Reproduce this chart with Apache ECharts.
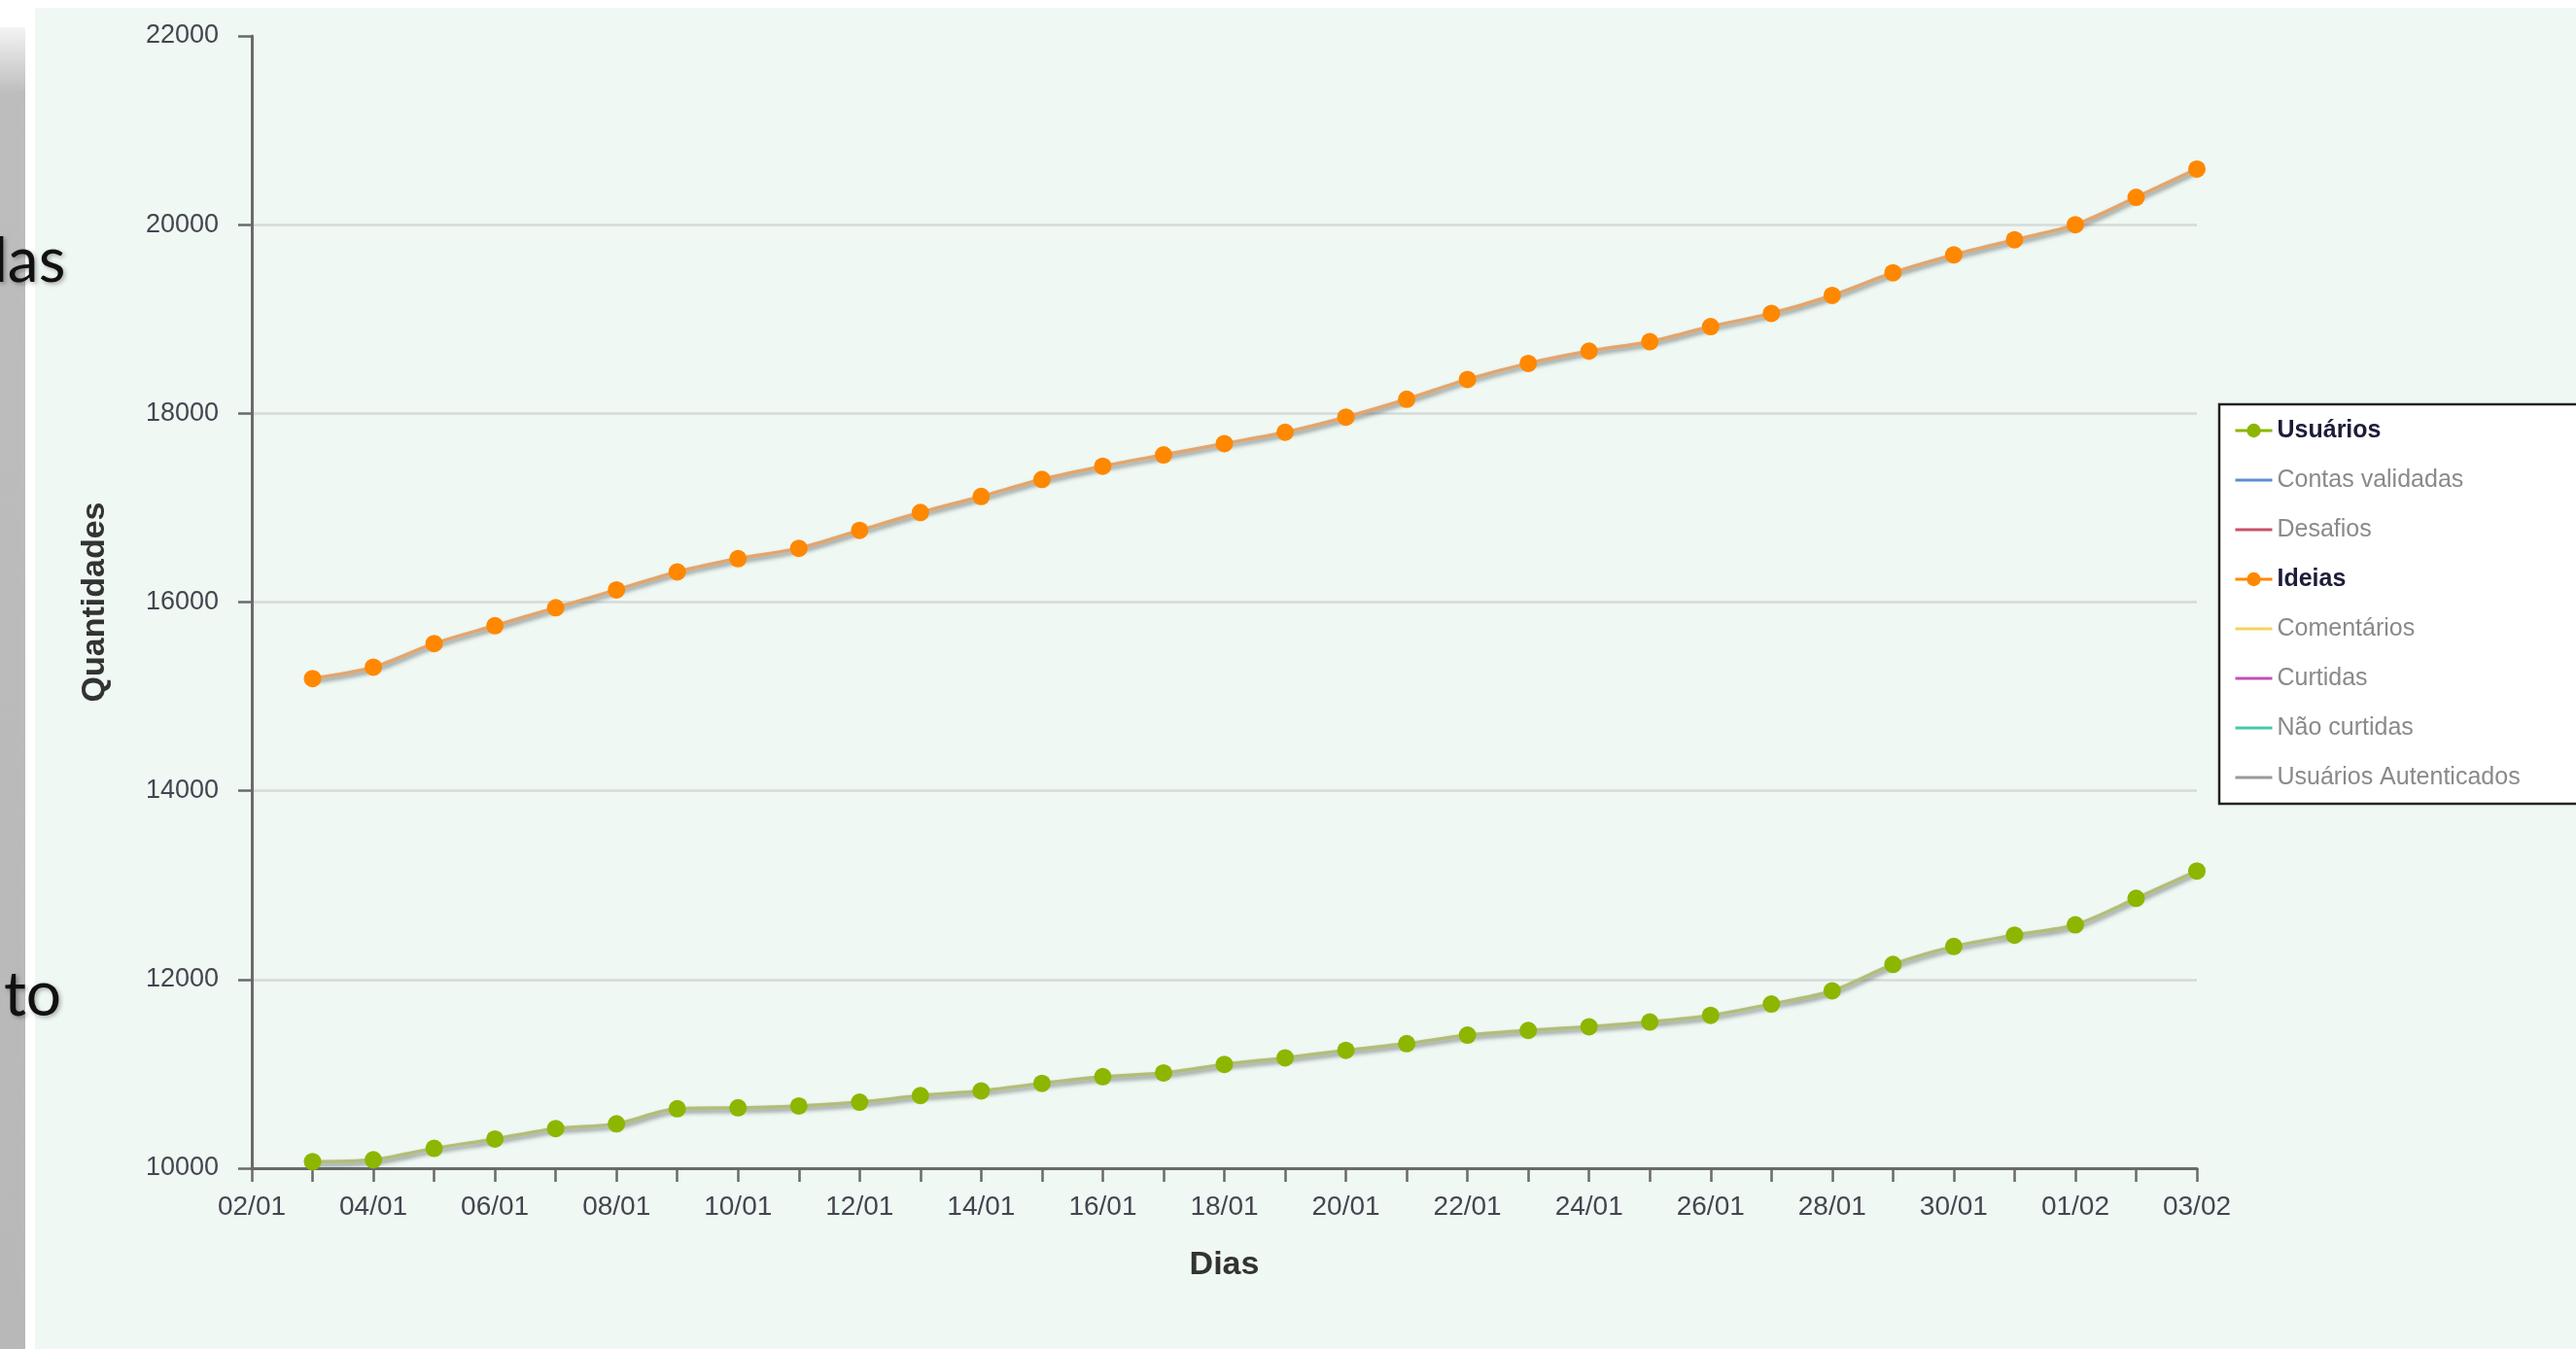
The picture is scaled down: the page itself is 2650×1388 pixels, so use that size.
<!DOCTYPE html>
<html>
<head>
<meta charset="utf-8">
<script src="https://cdn.jsdelivr.net/npm/echarts@6/dist/echarts.min.js"></script>
<style>
html,body{margin:0;padding:0;background:#fff;}
#c{width:2650px;height:1388px;}
</style>
</head>
<body>
<div id="c"></div>
<script>
const days = ['02/01','03/01','04/01','05/01','06/01','07/01','08/01','09/01','10/01','11/01','12/01',
  '13/01','14/01','15/01','16/01','17/01','18/01','19/01','20/01','21/01','22/01','23/01','24/01',
  '25/01','26/01','27/01','28/01','29/01','30/01','31/01','01/02','02/02','03/02'];

const usuarios = [null, 10070, 10090, 10210, 10310, 10420, 10470, 10630, 10640, 10660, 10700,
  10770, 10820, 10900, 10970, 11010, 11100, 11170, 11250, 11320, 11410, 11460, 11500,
  11550, 11620, 11740, 11880, 12160, 12350, 12470, 12580, 12860, 13150];

const ideias = [null, 15190, 15310, 15560, 15750, 15940, 16130, 16320, 16460, 16570, 16760,
  16950, 17120, 17300, 17440, 17560, 17680, 17800, 17960, 18150, 18360, 18530, 18660,
  18760, 18920, 19060, 19250, 19490, 19680, 19840, 20000, 20290, 20590];

const seriesNames = ['Usuários', 'Contas validadas', 'Desafios', 'Ideias', 'Comentários',
  'Curtidas', 'Não curtidas', 'Usuários Autenticados'];
const seriesColors = ['#8db600', '#5b8fd0', '#c85068', '#ff8800', '#f5d45a',
  '#c050b8', '#48c8a8', '#9a9a9a'];
const activeSeries = ['Usuários', 'Ideias'];

const yTicks = {min: 10000, max: 22000, interval: 2000};

const lineColors = {'Usuários': '#b3bd78', 'Ideias': '#e3a56c'};
const seriesData = {'Usuários': usuarios, 'Ideias': ideias};

const chart = echarts.init(document.getElementById('c'));

const series = seriesNames.map((name, i) => {
  const active = activeSeries.includes(name);
  if (active) {
    return {
      name: name,
      type: 'line',
      data: seriesData[name],
      smooth: 0.3,
      symbol: 'circle',
      symbolSize: 18,
      showAllSymbol: true,
      itemStyle: {color: seriesColors[i]},
      lineStyle: {
        color: lineColors[name], width: 3.5,
        shadowColor: 'rgba(60,70,70,0.6)', shadowBlur: 4, shadowOffsetY: 3, shadowOffsetX: 1
      },
      z: 3
    };
  }
  return {
    name: name, type: 'line', data: [], symbol: 'none',
    itemStyle: {color: seriesColors[i]}, lineStyle: {color: seriesColors[i], width: 3}
  };
});

const legendData = seriesNames.map((name, i) => {
  const active = activeSeries.includes(name);
  return {
    name: name,
    textStyle: active ? {color: '#1c1c3a', fontWeight: 'bold'} : {color: '#8a8a8a'},
    lineStyle: {color: seriesColors[i], width: 3},
    itemStyle: active ? {color: seriesColors[i]}
                      : {color: 'rgba(0,0,0,0)', borderColor: 'rgba(0,0,0,0)', borderWidth: 0, opacity: 0}
  };
});

const option = {
  backgroundColor: '#eff8f3',
  animation: false,
  graphic: [
    {type: 'rect', left: 0, top: 0, shape: {width: 2650, height: 8}, style: {fill: '#ffffff'}, z: 0},
    {type: 'rect', left: 0, top: 0, shape: {width: 36, height: 1388}, style: {fill: '#ffffff'}, z: 0},
    {type: 'rect', left: 0, top: 28, shape: {width: 26, height: 1360},
      style: {fill: new echarts.graphic.LinearGradient(0, 0, 0, 1, [
        {offset: 0, color: '#f4f4f4'}, {offset: 0.05, color: '#bdbdbd'}, {offset: 1, color: '#b8b8b8'}
      ])}, z: 1},
    {type: 'text', left: -28, top: 237, z: 5,
      style: {text: 'das', font: '64px Lato', fill: '#111111',
        textShadowColor: 'rgba(0,0,0,0.3)', textShadowBlur: 4, textShadowOffsetX: 2, textShadowOffsetY: 2}},
    {type: 'text', left: 4, top: 992, z: 5,
      style: {text: 'to', font: '64px Lato', fill: '#111111',
        textShadowColor: 'rgba(0,0,0,0.3)', textShadowBlur: 4, textShadowOffsetX: 2, textShadowOffsetY: 2}}
  ],
  grid: {left: 259, right: 390, top: 37, bottom: 186, containLabel: false},
  legend: {
    orient: 'vertical',
    left: 2283,
    top: 416,
    padding: [14, 90, 14, 15],
    backgroundColor: '#ffffff',
    borderColor: '#222222',
    borderWidth: 2.5,
    itemWidth: 38,
    itemHeight: 18,
    itemGap: 25,
    selectedMode: false,
    textStyle: {fontFamily: 'Liberation Sans', fontSize: 25, lineHeight: 26, color: '#8a8a8a'},
    data: legendData
  },
  xAxis: {
    type: 'category',
    data: days,
    boundaryGap: false,
    name: 'Dias',
    nameLocation: 'middle',
    nameGap: 83,
    nameTextStyle: {fontFamily: 'Liberation Sans', fontSize: 34, fontWeight: 'bold', color: '#333333'},
    axisLine: {lineStyle: {color: '#6a6a6a', width: 3}},
    axisTick: {show: true, interval: 0, length: 14, lineStyle: {color: '#6a6a6a', width: 2.5}},
    axisLabel: {interval: 1, margin: 26, fontFamily: 'Liberation Sans', fontSize: 28, color: '#454550'},
    splitLine: {show: false}
  },
  yAxis: {
    type: 'value',
    min: yTicks.min,
    max: yTicks.max,
    interval: yTicks.interval,
    name: 'Quantidades',
    nameLocation: 'middle',
    nameRotate: 90,
    nameGap: 144,
    nameTextStyle: {fontFamily: 'Liberation Sans', fontSize: 34, fontWeight: 'bold', color: '#333333'},
    axisLine: {show: true, lineStyle: {color: '#6a6a6a', width: 3}},
    axisTick: {show: true, length: 14, lineStyle: {color: '#6a6a6a', width: 2.5}},
    axisLabel: {margin: 34, fontFamily: 'Liberation Sans', fontSize: 27, color: '#454550',
      formatter: v => String(v)},
    splitLine: {show: true, showMaxLine: false, lineStyle: {color: '#d6dad8', width: 2.5}}
  },
  series: series
};

chart.setOption(option);
</script>
</body>
</html>
